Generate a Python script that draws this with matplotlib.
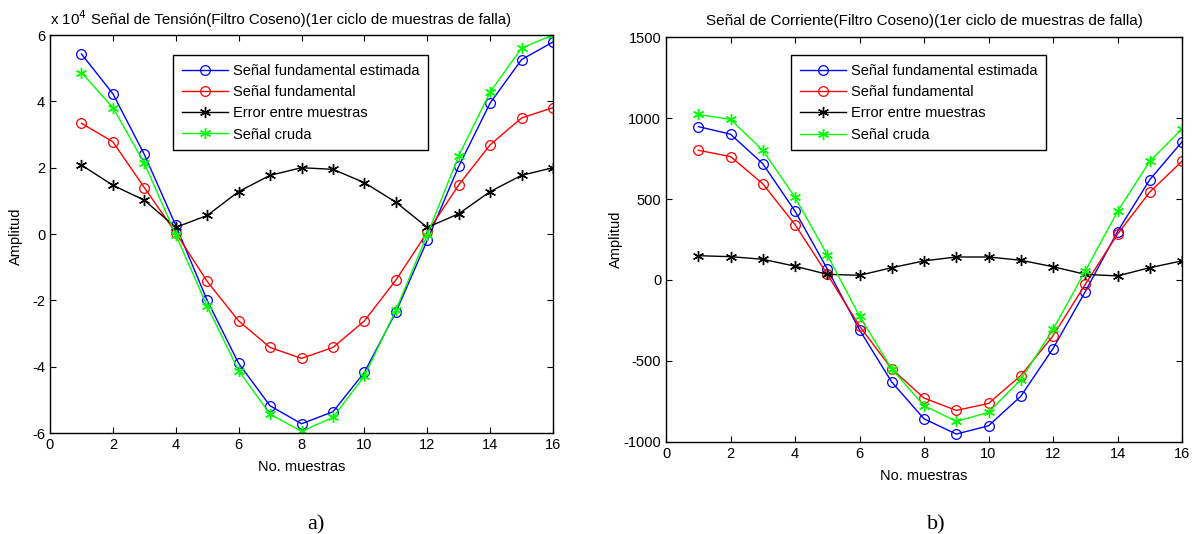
import matplotlib
matplotlib.use('Agg')
import matplotlib.pyplot as plt

plt.rcParams['font.family'] = ['Liberation Sans', 'DejaVu Sans']
plt.rcParams['axes.unicode_minus'] = False

muestras = list(range(1, 17))

# tension (x 10^4)
v_estimada = [5.43, 4.23, 2.40, 0.26, -2.00, -3.90, -5.18, -5.72, -5.36, -4.17, -2.36, -0.19, 2.04, 3.95, 5.26, 5.79]
v_fundamental = [3.34, 2.78, 1.40, 0.04, -1.43, -2.62, -3.42, -3.75, -3.42, -2.62, -1.39, 0.05, 1.48, 2.69, 3.50, 3.81]
v_error = [2.08, 1.47, 1.02, 0.20, 0.56, 1.28, 1.77, 2.00, 1.95, 1.55, 0.96, 0.20, 0.61, 1.28, 1.77, 2.00]
v_cruda = [4.87, 3.81, 2.14, -0.02, -2.18, -4.12, -5.43, -5.95, -5.53, -4.28, -2.30, -0.02, 2.36, 4.28, 5.61, 6.00]

# corriente
i_estimada = [947, 900, 718, 425, 68, -308, -630, -857, -951, -900, -718, -423, -72, 299, 619, 853]
i_fundamental = [801, 762, 594, 342, 35, -285, -549, -729, -805, -762, -590, -345, -27, 283, 543, 733]
i_error = [150, 144, 128, 85, 35, 29, 76, 118, 142, 142, 122, 82, 35, 25, 76, 118]
i_cruda = [1022, 991, 801, 510, 155, -223, -549, -776, -873, -817, -615, -305, 56, 423, 733, 933]

etiquetas = ['Señal fundamental estimada', 'Señal fundamental',
             'Error entre muestras', 'Señal cruda']

fig = plt.figure(figsize=(11.96, 5.34), dpi=100)
ax1 = fig.add_axes([0.0418, 0.1891, 0.4206, 0.7453])
ax2 = fig.add_axes([0.5569, 0.1723, 0.4314, 0.7584])

asterisco = (6, 2, 0)


def dibujar(ax, est, fund, err, cruda):
    ax.plot(muestras, est, color='#0000FF', marker='o', mfc='none', ms=7, lw=1, mew=0.9)
    ax.plot(muestras, fund, color='#FF0000', marker='o', mfc='none', ms=7, lw=1, mew=0.9)
    ax.plot(muestras, err, color='black', marker=asterisco, ms=8, lw=1, mew=1)
    ax.plot(muestras, cruda, color='#00FF00', marker=asterisco, ms=8, lw=1, mew=1)
    ax.set_xlim(0, 16)
    ax.set_xticks(range(0, 17, 2))
    ax.tick_params(direction='in', top=True, right=True, length=4, labelsize=10.5)
    for spine in ax.spines.values():
        spine.set_linewidth(1)
    ax.set_xlabel('No. muestras', fontsize=10.5, labelpad=6)
    ax.set_ylabel('Amplitud', fontsize=10.5)


def leyenda(ax, x, y):
    leg = ax.legend(etiquetas, loc='upper left', bbox_to_anchor=(x, y),
                    borderaxespad=0, fontsize=10.5, frameon=True, fancybox=False,
                    edgecolor='black', framealpha=1, borderpad=0.6,
                    handlelength=3.15, handletextpad=0.35, labelspacing=0.5)
    leg.get_frame().set_linewidth(1)


dibujar(ax1, v_estimada, v_fundamental, v_error, v_cruda)
ax1.set_ylim(-6, 6)
ax1.set_yticks(range(-6, 7, 2))
ax1.yaxis.set_label_coords(-0.054, 0.495)
ax1.set_title('Señal de Tensión(Filtro Coseno)(1er ciclo de muestras de falla)',
              fontsize=10.8, pad=8)
ax1.text(0.0, 1.017, 'x 10$^{4}$', transform=ax1.transAxes, fontsize=10.8,
         ha='left', va='bottom')
leyenda(ax1, 0.2445, 0.950)

dibujar(ax2, i_estimada, i_fundamental, i_error, i_cruda)
ax2.set_ylim(-1000, 1500)
ax2.set_yticks(range(-1000, 1501, 500))
ax2.yaxis.set_label_coords(-0.083, 0.5)
ax2.set_title('Señal de Corriente(Filtro Coseno)(1er ciclo de muestras de falla)',
              fontsize=11, pad=9)
leyenda(ax2, 0.2422, 0.9556)

fig.text(0.264, 0.008, 'a)', fontsize=16, family=['Liberation Serif'], ha='center')
fig.text(0.783, 0.008, 'b)', fontsize=16, family=['Liberation Serif'], ha='center')

fig.savefig('out.png', dpi=100)
